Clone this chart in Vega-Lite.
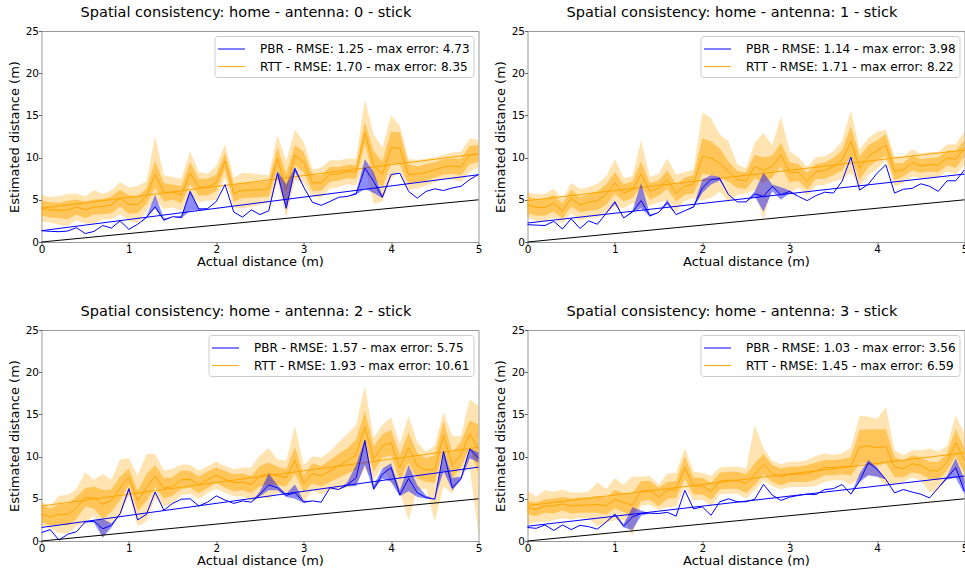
{
"$schema": "https://vega.github.io/schema/vega-lite/v6.json",
"padding": {"left": 7.5, "top": 4, "right": 5, "bottom": 5},
"config": {
 "font": "DejaVu Sans",
 "view": {"stroke": "#999999", "strokeWidth": 1},
 "axis": {"grid": false, "domain": false, "labelFontSize": 10.5, "titleFontSize": 13, "titleFontWeight": "normal", "labelColor": "#000000", "titleColor": "#000000", "tickColor": "#666666", "tickSize": 3, "labelFlush": false, "labelPadding": 0},
 "axisX": {"titlePadding": 1, "labelPadding": -1},
 "axisY": {"titlePadding": 4},
 "title": {"fontSize": 14.5, "fontWeight": "normal", "offset": 6, "color": "#000000", "anchor": "middle", "dx": -14},
 "legend": {"orient": "top-right", "offset": 5, "fillColor": "#ffffff", "strokeColor": "#cccccc", "cornerRadius": 3, "padding": 3.5, "labelFontSize": 12, "labelColor": "#000000", "labelLimit": 600, "symbolStrokeWidth": 1, "rowPadding": 1.6, "labelOffset": 19, "symbolOffset": 4, "symbolSize": 324, "symbolType": "M-1.5,0H1.5"}
},
"datasets": {
"fit": [
 {"p":0,"x":0,"bf":1.34,"rf":4.0,"id":0},{"p":0,"x":5,"bf":7.97,"rf":10.45,"id":5},
 {"p":1,"x":0,"bf":2.25,"rf":4.9,"id":0},{"p":1,"x":5,"bf":8.05,"rf":10.9,"id":5},
 {"p":2,"x":0,"bf":1.6,"rf":4.15,"id":0},{"p":2,"x":5,"bf":8.75,"rf":11.1,"id":5},
 {"p":3,"x":0,"bf":1.75,"rf":4.2,"id":0},{"p":3,"x":5,"bf":7.7,"rf":10.45,"id":5}
],
"d": [
{"p":0,"x":0,"b":1.34,"bl":1.34,"bh":1.34,"r":4.0,"l1":3.1,"h1":4.9,"l2":2.4,"h2":5.6},
{"p":0,"x":0.1,"b":1.26,"bl":1.26,"bh":1.26,"r":3.8,"l1":2.9,"h1":4.7,"l2":2.3,"h2":5.3},
{"p":0,"x":0.2,"b":1.22,"bl":1.22,"bh":1.22,"r":3.75,"l1":2.85,"h1":4.65,"l2":2.05,"h2":5.45},
{"p":0,"x":0.3,"b":1.3,"bl":1.3,"bh":1.3,"r":3.8,"l1":2.7,"h1":4.9,"l2":1.9,"h2":5.7},
{"p":0,"x":0.4,"b":1.7,"bl":1.7,"bh":1.7,"r":4.15,"l1":3.25,"h1":5.05,"l2":2.55,"h2":5.75},
{"p":0,"x":0.5,"b":1.0,"bl":1.0,"bh":1.0,"r":3.8,"l1":2.8,"h1":4.8,"l2":2.2,"h2":5.4},
{"p":0,"x":0.6,"b":1.25,"bl":1.25,"bh":1.25,"r":4.15,"l1":3.25,"h1":5.05,"l2":2.15,"h2":6.15},
{"p":0,"x":0.7,"b":1.95,"bl":1.95,"bh":1.95,"r":4.2,"l1":3.3,"h1":5.1,"l2":2.7,"h2":5.7},
{"p":0,"x":0.8,"b":1.65,"bl":1.65,"bh":1.65,"r":4.4,"l1":3.4,"h1":5.4,"l2":2.7,"h2":6.1},
{"p":0,"x":0.9,"b":2.5,"bl":2.5,"bh":2.5,"r":5.2,"l1":4.2,"h1":6.2,"l2":3.3,"h2":7.1},
{"p":0,"x":1.0,"b":1.5,"bl":1.5,"bh":1.5,"r":4.45,"l1":3.35,"h1":5.55,"l2":2.45,"h2":6.45},
{"p":0,"x":1.1,"b":2.1,"bl":2.1,"bh":2.1,"r":4.45,"l1":3.45,"h1":5.45,"l2":2.25,"h2":6.65},
{"p":0,"x":1.2,"b":2.9,"bl":2.9,"bh":3.0,"r":5.4,"l1":4.5,"h1":6.3,"l2":3.6,"h2":7.2},
{"p":0,"x":1.3,"b":4.15,"bl":4.0,"bh":5.6,"r":8.0,"l1":6.4,"h1":9.6,"l2":5.0,"h2":12.5},
{"p":0,"x":1.4,"b":2.6,"bl":2.5,"bh":2.8,"r":5.9,"l1":4.8,"h1":7.0,"l2":3.9,"h2":7.9},
{"p":0,"x":1.5,"b":3.0,"bl":3.0,"bh":3.0,"r":5.9,"l1":5.0,"h1":6.8,"l2":4.1,"h2":7.7},
{"p":0,"x":1.6,"b":2.9,"bl":2.8,"bh":3.1,"r":5.6,"l1":4.6,"h1":6.6,"l2":3.7,"h2":7.5},
{"p":0,"x":1.7,"b":6.0,"bl":3.7,"bh":6.1,"r":8.15,"l1":6.85,"h1":9.45,"l2":5.55,"h2":10.75},
{"p":0,"x":1.8,"b":3.9,"bl":3.8,"bh":4.0,"r":6.5,"l1":5.5,"h1":7.5,"l2":4.7,"h2":8.3},
{"p":0,"x":1.9,"b":3.95,"bl":3.95,"bh":3.95,"r":6.5,"l1":5.5,"h1":7.5,"l2":4.9,"h2":8.1},
{"p":0,"x":2.0,"b":4.8,"bl":4.8,"bh":4.8,"r":7.0,"l1":6.0,"h1":8.0,"l2":5.0,"h2":9.0},
{"p":0,"x":2.1,"b":6.8,"bl":6.8,"bh":6.8,"r":9.6,"l1":8.6,"h1":10.6,"l2":7.6,"h2":11.6},
{"p":0,"x":2.2,"b":3.55,"bl":3.55,"bh":3.55,"r":5.8,"l1":4.8,"h1":6.8,"l2":4.0,"h2":7.6},
{"p":0,"x":2.3,"b":2.95,"bl":2.95,"bh":2.95,"r":6.1,"l1":5.2,"h1":7.0,"l2":4.0,"h2":8.2},
{"p":0,"x":2.4,"b":3.8,"bl":3.8,"bh":3.8,"r":6.15,"l1":5.25,"h1":7.05,"l2":4.15,"h2":8.15},
{"p":0,"x":2.5,"b":3.25,"bl":3.25,"bh":3.25,"r":6.2,"l1":5.3,"h1":7.1,"l2":4.4,"h2":8.0},
{"p":0,"x":2.6,"b":3.7,"bl":3.7,"bh":3.7,"r":6.3,"l1":5.4,"h1":7.2,"l2":4.7,"h2":7.9},
{"p":0,"x":2.7,"b":8.15,"bl":7.8,"bh":8.4,"r":9.9,"l1":8.6,"h1":11.2,"l2":7.1,"h2":12.7},
{"p":0,"x":2.8,"b":4.0,"bl":3.8,"bh":6.8,"r":6.2,"l1":4.3,"h1":8.1,"l2":2.8,"h2":9.6},
{"p":0,"x":2.9,"b":8.7,"bl":8.3,"bh":8.9,"r":10.3,"l1":9.1,"h1":11.5,"l2":7.3,"h2":13.3},
{"p":0,"x":3.0,"b":6.5,"bl":6.5,"bh":6.5,"r":9.45,"l1":8.25,"h1":10.65,"l2":7.05,"h2":11.85},
{"p":0,"x":3.1,"b":4.7,"bl":4.7,"bh":4.7,"r":7.0,"l1":6.0,"h1":8.0,"l2":5.4,"h2":8.6},
{"p":0,"x":3.2,"b":4.35,"bl":4.35,"bh":4.35,"r":7.0,"l1":6.1,"h1":7.9,"l2":5.2,"h2":8.8},
{"p":0,"x":3.3,"b":4.8,"bl":4.8,"bh":4.8,"r":8.0,"l1":7.1,"h1":8.9,"l2":6.3,"h2":9.7},
{"p":0,"x":3.4,"b":5.3,"bl":5.3,"bh":5.3,"r":8.1,"l1":7.3,"h1":8.9,"l2":6.5,"h2":9.7},
{"p":0,"x":3.5,"b":5.4,"bl":5.4,"bh":5.4,"r":8.35,"l1":7.55,"h1":9.15,"l2":6.85,"h2":9.85},
{"p":0,"x":3.6,"b":5.7,"bl":5.6,"bh":5.9,"r":8.3,"l1":7.5,"h1":9.1,"l2":6.7,"h2":9.9},
{"p":0,"x":3.7,"b":8.75,"bl":6.3,"bh":9.8,"r":12.9,"l1":11.6,"h1":14.2,"l2":8.9,"h2":16.9},
{"p":0,"x":3.8,"b":7.2,"bl":5.8,"bh":8.3,"r":9.15,"l1":7.55,"h1":10.75,"l2":4.5,"h2":12.75},
{"p":0,"x":3.9,"b":5.3,"bl":5.2,"bh":5.5,"r":8.0,"l1":6.5,"h1":9.5,"l2":4.8,"h2":11.2},
{"p":0,"x":4.0,"b":8.0,"bl":8.0,"bh":8.0,"r":11.2,"l1":9.3,"h1":13.1,"l2":7.4,"h2":15.0},
{"p":0,"x":4.1,"b":8.15,"bl":8.15,"bh":8.15,"r":11.1,"l1":9.2,"h1":13.0,"l2":8.4,"h2":13.8},
{"p":0,"x":4.2,"b":6.0,"bl":6.0,"bh":6.0,"r":8.0,"l1":6.8,"h1":9.2,"l2":6.2,"h2":9.8},
{"p":0,"x":4.3,"b":5.2,"bl":5.2,"bh":5.2,"r":8.05,"l1":7.15,"h1":8.95,"l2":6.35,"h2":9.75},
{"p":0,"x":4.4,"b":6.0,"bl":6.0,"bh":6.0,"r":8.25,"l1":7.25,"h1":9.25,"l2":6.65,"h2":9.85},
{"p":0,"x":4.5,"b":6.3,"bl":6.3,"bh":6.3,"r":8.55,"l1":7.65,"h1":9.45,"l2":7.05,"h2":10.05},
{"p":0,"x":4.6,"b":6.1,"bl":6.1,"bh":6.1,"r":8.9,"l1":8.0,"h1":9.8,"l2":7.5,"h2":10.3},
{"p":0,"x":4.7,"b":6.4,"bl":6.4,"bh":6.4,"r":9.0,"l1":8.1,"h1":9.9,"l2":7.4,"h2":10.6},
{"p":0,"x":4.8,"b":6.6,"bl":6.6,"bh":6.6,"r":8.9,"l1":7.9,"h1":9.9,"l2":7.1,"h2":10.7},
{"p":0,"x":4.9,"b":7.4,"bl":7.4,"bh":7.4,"r":10.3,"l1":9.2,"h1":11.4,"l2":8.3,"h2":12.3},
{"p":0,"x":5.0,"b":8.0,"bl":8.0,"bh":8.0,"r":10.5,"l1":9.5,"h1":11.5,"l2":8.9,"h2":12.1},

{"p":1,"x":0,"b":2.05,"bl":2.05,"bh":2.05,"r":4.4,"l1":3.4,"h1":5.4,"l2":2.9,"h2":5.9},
{"p":1,"x":0.1,"b":2.0,"bl":2.0,"bh":2.0,"r":4.1,"l1":3.1,"h1":5.1,"l2":2.5,"h2":5.7},
{"p":1,"x":0.2,"b":1.95,"bl":1.95,"bh":1.95,"r":4.1,"l1":3.1,"h1":5.1,"l2":2.5,"h2":5.7},
{"p":1,"x":0.3,"b":2.45,"bl":2.45,"bh":2.45,"r":4.6,"l1":3.6,"h1":5.6,"l2":2.9,"h2":6.3},
{"p":1,"x":0.4,"b":1.55,"bl":1.55,"bh":1.55,"r":3.65,"l1":2.75,"h1":4.55,"l2":2.15,"h2":5.15},
{"p":1,"x":0.5,"b":2.75,"bl":2.75,"bh":2.75,"r":5.2,"l1":4.2,"h1":6.2,"l2":3.4,"h2":7.0},
{"p":1,"x":0.6,"b":1.6,"bl":1.6,"bh":1.6,"r":4.4,"l1":3.5,"h1":5.3,"l2":2.5,"h2":6.3},
{"p":1,"x":0.7,"b":2.5,"bl":2.5,"bh":2.5,"r":4.7,"l1":3.7,"h1":5.7,"l2":2.9,"h2":6.5},
{"p":1,"x":0.8,"b":2.1,"bl":2.1,"bh":2.1,"r":4.9,"l1":3.8,"h1":6.0,"l2":2.9,"h2":6.9},
{"p":1,"x":0.9,"b":3.4,"bl":3.4,"bh":3.4,"r":5.6,"l1":4.4,"h1":6.8,"l2":3.4,"h2":7.8},
{"p":1,"x":1.0,"b":4.75,"bl":4.5,"bh":4.9,"r":7.0,"l1":5.7,"h1":8.3,"l2":4.2,"h2":9.8},
{"p":1,"x":1.1,"b":2.85,"bl":2.85,"bh":2.85,"r":5.8,"l1":4.8,"h1":6.8,"l2":4.0,"h2":7.6},
{"p":1,"x":1.2,"b":3.55,"bl":3.5,"bh":3.7,"r":6.2,"l1":5.2,"h1":7.2,"l2":4.6,"h2":7.8},
{"p":1,"x":1.3,"b":4.9,"bl":4.0,"bh":7.0,"r":8.05,"l1":6.55,"h1":9.55,"l2":4.05,"h2":12.05},
{"p":1,"x":1.4,"b":3.1,"bl":3.0,"bh":3.3,"r":6.0,"l1":5.0,"h1":7.0,"l2":4.3,"h2":7.7},
{"p":1,"x":1.5,"b":3.5,"bl":3.5,"bh":3.5,"r":6.4,"l1":5.5,"h1":7.3,"l2":4.7,"h2":8.1},
{"p":1,"x":1.6,"b":4.7,"bl":4.4,"bh":5.0,"r":7.4,"l1":6.3,"h1":8.5,"l2":4.9,"h2":9.9},
{"p":1,"x":1.7,"b":3.25,"bl":3.25,"bh":3.25,"r":5.8,"l1":4.8,"h1":6.8,"l2":3.6,"h2":8.0},
{"p":1,"x":1.8,"b":3.7,"bl":3.7,"bh":3.7,"r":6.6,"l1":5.6,"h1":7.6,"l2":4.9,"h2":8.3},
{"p":1,"x":1.9,"b":4.15,"bl":4.1,"bh":4.3,"r":6.85,"l1":5.75,"h1":7.95,"l2":5.15,"h2":8.55},
{"p":1,"x":2.0,"b":6.4,"bl":5.8,"bh":7.4,"r":10.15,"l1":8.05,"h1":12.25,"l2":4.95,"h2":15.35},
{"p":1,"x":2.1,"b":7.4,"bl":6.8,"bh":7.9,"r":9.95,"l1":7.95,"h1":11.95,"l2":5.25,"h2":14.65},
{"p":1,"x":2.2,"b":7.5,"bl":7.3,"bh":7.7,"r":9.35,"l1":7.65,"h1":11.05,"l2":5.95,"h2":12.75},
{"p":1,"x":2.3,"b":5.6,"bl":5.6,"bh":5.6,"r":8.35,"l1":7.15,"h1":9.55,"l2":4.75,"h2":11.95},
{"p":1,"x":2.4,"b":4.75,"bl":4.75,"bh":4.75,"r":7.4,"l1":6.4,"h1":8.4,"l2":5.6,"h2":9.2},
{"p":1,"x":2.5,"b":4.75,"bl":4.75,"bh":4.75,"r":7.25,"l1":6.25,"h1":8.25,"l2":5.75,"h2":8.75},
{"p":1,"x":2.6,"b":5.7,"bl":5.4,"bh":6.0,"r":8.95,"l1":7.55,"h1":10.35,"l2":6.15,"h2":11.75},
{"p":1,"x":2.7,"b":5.4,"bl":3.6,"bh":8.2,"r":8.5,"l1":7.0,"h1":10.0,"l2":2.6,"h2":12.9},
{"p":1,"x":2.8,"b":6.6,"bl":6.0,"bh":6.8,"r":8.95,"l1":7.65,"h1":10.25,"l2":6.45,"h2":11.45},
{"p":1,"x":2.9,"b":5.6,"bl":5.0,"bh":6.5,"r":10.35,"l1":8.95,"h1":11.75,"l2":5.85,"h2":14.85},
{"p":1,"x":3.0,"b":6.0,"bl":5.8,"bh":6.1,"r":8.25,"l1":7.05,"h1":9.45,"l2":5.75,"h2":10.75},
{"p":1,"x":3.1,"b":5.4,"bl":5.4,"bh":5.4,"r":8.25,"l1":7.25,"h1":9.25,"l2":6.45,"h2":10.05},
{"p":1,"x":3.2,"b":4.9,"bl":4.9,"bh":4.9,"r":7.2,"l1":6.2,"h1":8.2,"l2":5.5,"h2":8.9},
{"p":1,"x":3.3,"b":5.5,"bl":5.5,"bh":5.5,"r":8.35,"l1":7.45,"h1":9.25,"l2":6.65,"h2":10.05},
{"p":1,"x":3.4,"b":5.9,"bl":5.9,"bh":5.9,"r":8.45,"l1":7.45,"h1":9.45,"l2":6.75,"h2":10.15},
{"p":1,"x":3.5,"b":5.8,"bl":5.8,"bh":5.8,"r":8.95,"l1":7.95,"h1":9.95,"l2":7.15,"h2":10.75},
{"p":1,"x":3.6,"b":7.2,"bl":7.2,"bh":7.2,"r":9.7,"l1":8.5,"h1":10.9,"l2":7.4,"h2":12.0},
{"p":1,"x":3.7,"b":10.05,"bl":10.05,"bh":10.05,"r":11.9,"l1":10.1,"h1":13.7,"l2":8.2,"h2":15.6},
{"p":1,"x":3.8,"b":6.15,"bl":6.15,"bh":6.15,"r":8.75,"l1":7.35,"h1":10.15,"l2":6.55,"h2":10.95},
{"p":1,"x":3.9,"b":6.85,"bl":6.85,"bh":6.85,"r":10.15,"l1":8.85,"h1":11.45,"l2":7.95,"h2":12.35},
{"p":1,"x":4.0,"b":8.15,"bl":8.15,"bh":8.15,"r":10.85,"l1":9.65,"h1":12.05,"l2":8.65,"h2":13.05},
{"p":1,"x":4.1,"b":9.15,"bl":9.15,"bh":9.15,"r":11.5,"l1":10.2,"h1":12.8,"l2":9.7,"h2":13.3},
{"p":1,"x":4.2,"b":5.8,"bl":5.8,"bh":5.8,"r":8.35,"l1":7.35,"h1":9.35,"l2":6.55,"h2":10.15},
{"p":1,"x":4.3,"b":6.25,"bl":6.25,"bh":6.25,"r":8.55,"l1":7.75,"h1":9.35,"l2":6.95,"h2":10.15},
{"p":1,"x":4.4,"b":6.35,"bl":6.35,"bh":6.35,"r":9.4,"l1":8.5,"h1":10.3,"l2":7.8,"h2":11.0},
{"p":1,"x":4.5,"b":6.9,"bl":6.9,"bh":6.9,"r":9.0,"l1":8.2,"h1":9.8,"l2":7.5,"h2":10.5},
{"p":1,"x":4.6,"b":6.6,"bl":6.6,"bh":6.6,"r":9.15,"l1":8.35,"h1":9.95,"l2":7.65,"h2":10.65},
{"p":1,"x":4.7,"b":6.0,"bl":6.0,"bh":6.0,"r":9.15,"l1":8.25,"h1":10.05,"l2":7.65,"h2":10.65},
{"p":1,"x":4.8,"b":7.25,"bl":7.25,"bh":7.25,"r":9.95,"l1":9.05,"h1":10.85,"l2":8.35,"h2":11.55},
{"p":1,"x":4.9,"b":7.25,"bl":7.25,"bh":7.25,"r":9.8,"l1":8.8,"h1":10.8,"l2":8.0,"h2":11.6},
{"p":1,"x":5.0,"b":8.55,"bl":8.55,"bh":8.55,"r":11.1,"l1":10.1,"h1":12.1,"l2":9.1,"h2":13.1},

{"p":2,"x":0,"b":1.0,"bl":1.0,"bh":1.0,"r":3.25,"l1":2.25,"h1":4.25,"l2":1.85,"h2":4.65},
{"p":2,"x":0.1,"b":1.35,"bl":1.35,"bh":1.35,"r":2.85,"l1":1.85,"h1":3.85,"l2":1.55,"h2":4.15},
{"p":2,"x":0.2,"b":0.1,"bl":0.1,"bh":0.1,"r":3.15,"l1":1.95,"h1":4.35,"l2":0.95,"h2":5.35},
{"p":2,"x":0.3,"b":0.8,"bl":0.8,"bh":0.8,"r":3.15,"l1":1.85,"h1":4.45,"l2":0.85,"h2":5.45},
{"p":2,"x":0.4,"b":1.1,"bl":1.1,"bh":1.1,"r":3.95,"l1":2.65,"h1":5.25,"l2":1.75,"h2":6.15},
{"p":2,"x":0.5,"b":2.25,"bl":2.25,"bh":2.25,"r":5.15,"l1":4.05,"h1":6.25,"l2":2.15,"h2":8.15},
{"p":2,"x":0.6,"b":2.35,"bl":2.2,"bh":2.4,"r":5.15,"l1":3.85,"h1":6.45,"l2":3.05,"h2":7.25},
{"p":2,"x":0.7,"b":1.45,"bl":0.4,"bh":2.6,"r":4.35,"l1":2.65,"h1":6.05,"l2":0.2,"h2":7.95},
{"p":2,"x":0.8,"b":1.85,"bl":1.6,"bh":2.1,"r":4.8,"l1":3.5,"h1":6.1,"l2":2.3,"h2":7.3},
{"p":2,"x":0.9,"b":3.25,"bl":3.25,"bh":3.25,"r":6.25,"l1":4.85,"h1":7.65,"l2":2.85,"h2":9.65},
{"p":2,"x":1.0,"b":6.2,"bl":5.9,"bh":6.3,"r":7.6,"l1":6.6,"h1":8.6,"l2":5.4,"h2":9.8},
{"p":2,"x":1.1,"b":2.5,"bl":2.5,"bh":2.5,"r":4.75,"l1":3.55,"h1":5.95,"l2":1.75,"h2":7.75},
{"p":2,"x":1.2,"b":3.15,"bl":3.15,"bh":3.15,"r":6.3,"l1":4.7,"h1":7.9,"l2":2.3,"h2":10.3},
{"p":2,"x":1.3,"b":5.8,"bl":5.8,"bh":5.8,"r":7.7,"l1":6.4,"h1":9.0,"l2":5.1,"h2":10.3},
{"p":2,"x":1.4,"b":3.65,"bl":3.65,"bh":3.65,"r":6.25,"l1":5.05,"h1":7.45,"l2":4.15,"h2":8.35},
{"p":2,"x":1.5,"b":4.45,"bl":4.45,"bh":4.45,"r":6.45,"l1":5.35,"h1":7.55,"l2":4.35,"h2":8.55},
{"p":2,"x":1.6,"b":4.95,"bl":4.95,"bh":4.95,"r":7.25,"l1":6.15,"h1":8.35,"l2":5.45,"h2":9.05},
{"p":2,"x":1.7,"b":5.0,"bl":5.0,"bh":5.0,"r":7.3,"l1":6.3,"h1":8.3,"l2":5.6,"h2":9.0},
{"p":2,"x":1.8,"b":4.15,"bl":4.15,"bh":4.15,"r":6.65,"l1":5.65,"h1":7.65,"l2":4.95,"h2":8.35},
{"p":2,"x":1.9,"b":4.6,"bl":4.6,"bh":4.6,"r":7.25,"l1":6.25,"h1":8.25,"l2":5.65,"h2":8.85},
{"p":2,"x":2.0,"b":5.35,"bl":5.35,"bh":5.35,"r":7.8,"l1":6.9,"h1":8.7,"l2":6.2,"h2":9.4},
{"p":2,"x":2.1,"b":4.85,"bl":4.85,"bh":4.85,"r":7.3,"l1":6.3,"h1":8.3,"l2":5.7,"h2":8.9},
{"p":2,"x":2.2,"b":4.45,"bl":4.45,"bh":4.45,"r":6.9,"l1":5.9,"h1":7.9,"l2":5.3,"h2":8.5},
{"p":2,"x":2.3,"b":4.75,"bl":4.75,"bh":4.75,"r":7.0,"l1":6.0,"h1":8.0,"l2":5.3,"h2":8.7},
{"p":2,"x":2.4,"b":4.6,"bl":4.6,"bh":4.6,"r":6.7,"l1":5.7,"h1":7.7,"l2":4.7,"h2":8.7},
{"p":2,"x":2.5,"b":5.55,"bl":5.3,"bh":5.9,"r":7.7,"l1":6.5,"h1":8.9,"l2":5.2,"h2":10.2},
{"p":2,"x":2.6,"b":6.65,"bl":6.0,"bh":8.0,"r":8.0,"l1":6.7,"h1":9.3,"l2":5.0,"h2":11.0},
{"p":2,"x":2.7,"b":6.3,"bl":6.0,"bh":6.6,"r":7.7,"l1":6.6,"h1":8.8,"l2":5.7,"h2":9.7},
{"p":2,"x":2.8,"b":5.4,"bl":5.2,"bh":5.6,"r":7.5,"l1":6.5,"h1":8.5,"l2":5.5,"h2":9.5},
{"p":2,"x":2.9,"b":5.75,"bl":5.0,"bh":6.7,"r":9.55,"l1":7.95,"h1":11.15,"l2":5.45,"h2":13.65},
{"p":2,"x":3.0,"b":4.6,"bl":4.5,"bh":4.8,"r":6.8,"l1":5.8,"h1":7.8,"l2":4.6,"h2":9.0},
{"p":2,"x":3.1,"b":4.75,"bl":4.75,"bh":4.75,"r":8.0,"l1":6.8,"h1":9.2,"l2":6.0,"h2":10.0},
{"p":2,"x":3.2,"b":4.6,"bl":4.6,"bh":4.6,"r":7.7,"l1":6.5,"h1":8.9,"l2":5.5,"h2":9.9},
{"p":2,"x":3.3,"b":6.3,"bl":6.3,"bh":6.3,"r":8.3,"l1":7.0,"h1":9.6,"l2":6.0,"h2":10.6},
{"p":2,"x":3.4,"b":6.1,"bl":6.1,"bh":6.1,"r":8.9,"l1":7.5,"h1":10.3,"l2":6.1,"h2":11.7},
{"p":2,"x":3.5,"b":6.65,"bl":6.5,"bh":7.0,"r":9.5,"l1":8.0,"h1":11.0,"l2":6.3,"h2":12.7},
{"p":2,"x":3.6,"b":7.5,"bl":6.5,"bh":9.0,"r":10.25,"l1":8.45,"h1":12.05,"l2":6.75,"h2":13.75},
{"p":2,"x":3.7,"b":11.9,"bl":9.0,"bh":12.0,"r":13.5,"l1":11.6,"h1":15.4,"l2":8.6,"h2":18.4},
{"p":2,"x":3.8,"b":6.15,"bl":6.0,"bh":6.6,"r":9.7,"l1":8.2,"h1":11.2,"l2":7.2,"h2":12.2},
{"p":2,"x":3.9,"b":7.9,"bl":7.4,"bh":8.6,"r":11.25,"l1":9.85,"h1":12.65,"l2":8.75,"h2":13.75},
{"p":2,"x":4.0,"b":8.7,"bl":7.0,"bh":9.2,"r":11.65,"l1":10.15,"h1":13.15,"l2":7.0,"h2":14.65},
{"p":2,"x":4.1,"b":5.45,"bl":5.3,"bh":6.0,"r":8.7,"l1":7.2,"h1":10.2,"l2":5.9,"h2":11.5},
{"p":2,"x":4.2,"b":7.4,"bl":5.9,"bh":9.0,"r":11.05,"l1":9.25,"h1":12.85,"l2":2.5,"h2":14.8},
{"p":2,"x":4.3,"b":5.7,"bl":5.2,"bh":6.6,"r":8.9,"l1":7.4,"h1":10.4,"l2":6.1,"h2":11.7},
{"p":2,"x":4.4,"b":5.15,"bl":5.0,"bh":5.4,"r":8.4,"l1":7.0,"h1":9.8,"l2":6.2,"h2":10.6},
{"p":2,"x":4.5,"b":4.95,"bl":4.95,"bh":4.95,"r":8.5,"l1":6.9,"h1":10.2,"l2":2.3,"h2":11.3},
{"p":2,"x":4.6,"b":10.6,"bl":8.3,"bh":10.7,"r":12.5,"l1":10.8,"h1":14.2,"l2":6.5,"h2":15.3},
{"p":2,"x":4.7,"b":6.3,"bl":6.0,"bh":7.5,"r":9.0,"l1":7.5,"h1":10.5,"l2":5.6,"h2":12.4},
{"p":2,"x":4.8,"b":7.4,"bl":7.2,"bh":7.6,"r":10.25,"l1":8.75,"h1":11.75,"l2":8.05,"h2":12.45},
{"p":2,"x":4.9,"b":10.9,"bl":9.8,"bh":11.0,"r":12.7,"l1":11.1,"h1":14.3,"l2":8.6,"h2":16.8},
{"p":2,"x":5.0,"b":9.8,"bl":9.3,"bh":10.5,"r":10.85,"l1":8.0,"h1":13.8,"l2":0.8,"h2":16.0},

{"p":3,"x":0,"b":1.6,"bl":1.6,"bh":1.6,"r":3.95,"l1":3.15,"h1":4.75,"l2":1.95,"h2":5.95},
{"p":3,"x":0.1,"b":1.5,"bl":1.5,"bh":1.5,"r":3.75,"l1":2.95,"h1":4.55,"l2":2.25,"h2":5.25},
{"p":3,"x":0.2,"b":1.9,"bl":1.9,"bh":1.9,"r":4.15,"l1":3.35,"h1":4.95,"l2":2.25,"h2":6.05},
{"p":3,"x":0.3,"b":1.25,"bl":1.25,"bh":1.25,"r":4.15,"l1":3.25,"h1":5.05,"l2":2.45,"h2":5.85},
{"p":3,"x":0.4,"b":1.9,"bl":1.9,"bh":1.9,"r":4.4,"l1":3.6,"h1":5.2,"l2":2.7,"h2":6.1},
{"p":3,"x":0.5,"b":1.35,"bl":1.35,"bh":1.35,"r":4.15,"l1":3.25,"h1":5.05,"l2":2.55,"h2":5.75},
{"p":3,"x":0.6,"b":1.85,"bl":1.85,"bh":1.85,"r":4.25,"l1":3.35,"h1":5.15,"l2":2.75,"h2":5.75},
{"p":3,"x":0.7,"b":1.7,"bl":1.7,"bh":1.7,"r":4.25,"l1":3.35,"h1":5.15,"l2":2.65,"h2":5.85},
{"p":3,"x":0.8,"b":1.4,"bl":1.4,"bh":1.4,"r":4.35,"l1":3.35,"h1":5.35,"l2":1.75,"h2":6.95},
{"p":3,"x":0.9,"b":2.25,"bl":2.25,"bh":2.25,"r":4.15,"l1":3.15,"h1":5.15,"l2":2.15,"h2":6.15},
{"p":3,"x":1.0,"b":3.15,"bl":3.0,"bh":3.3,"r":4.95,"l1":3.85,"h1":6.05,"l2":2.45,"h2":7.45},
{"p":3,"x":1.1,"b":1.75,"bl":1.6,"bh":2.0,"r":4.55,"l1":3.45,"h1":5.65,"l2":2.45,"h2":6.65},
{"p":3,"x":1.2,"b":2.85,"bl":1.3,"bh":4.0,"r":4.25,"l1":2.85,"h1":5.65,"l2":0.6,"h2":7.65},
{"p":3,"x":1.3,"b":3.25,"bl":3.0,"bh":3.6,"r":5.9,"l1":4.7,"h1":7.1,"l2":4.2,"h2":7.6},
{"p":3,"x":1.4,"b":3.3,"bl":3.3,"bh":3.3,"r":6.0,"l1":4.9,"h1":7.1,"l2":4.3,"h2":7.7},
{"p":3,"x":1.5,"b":3.25,"bl":3.25,"bh":3.25,"r":5.2,"l1":4.1,"h1":6.3,"l2":3.7,"h2":6.7},
{"p":3,"x":1.6,"b":3.4,"bl":3.4,"bh":3.4,"r":6.0,"l1":5.0,"h1":7.0,"l2":4.0,"h2":8.0},
{"p":3,"x":1.7,"b":2.95,"bl":2.95,"bh":2.95,"r":6.1,"l1":5.1,"h1":7.1,"l2":4.1,"h2":8.1},
{"p":3,"x":1.8,"b":6.0,"bl":6.0,"bh":6.0,"r":8.7,"l1":7.4,"h1":10.0,"l2":6.4,"h2":11.0},
{"p":3,"x":1.9,"b":3.8,"bl":3.8,"bh":3.8,"r":6.5,"l1":5.5,"h1":7.5,"l2":4.8,"h2":8.2},
{"p":3,"x":2.0,"b":4.05,"bl":4.05,"bh":4.05,"r":6.5,"l1":5.5,"h1":7.5,"l2":4.9,"h2":8.1},
{"p":3,"x":2.1,"b":3.05,"bl":3.05,"bh":3.05,"r":5.9,"l1":4.9,"h1":6.9,"l2":4.1,"h2":7.7},
{"p":3,"x":2.2,"b":4.65,"bl":4.65,"bh":4.65,"r":7.1,"l1":6.1,"h1":8.1,"l2":5.5,"h2":8.7},
{"p":3,"x":2.3,"b":5.0,"bl":5.0,"bh":5.0,"r":7.2,"l1":6.2,"h1":8.2,"l2":5.6,"h2":8.8},
{"p":3,"x":2.4,"b":4.65,"bl":4.65,"bh":4.65,"r":7.2,"l1":6.2,"h1":8.2,"l2":5.6,"h2":8.8},
{"p":3,"x":2.5,"b":4.65,"bl":4.65,"bh":4.65,"r":6.8,"l1":5.7,"h1":7.9,"l2":5.0,"h2":8.6},
{"p":3,"x":2.6,"b":4.95,"bl":4.95,"bh":4.95,"r":7.9,"l1":6.6,"h1":9.2,"l2":6.0,"h2":13.7},
{"p":3,"x":2.7,"b":6.7,"bl":6.7,"bh":6.7,"r":9.1,"l1":7.9,"h1":10.3,"l2":7.2,"h2":11.0},
{"p":3,"x":2.8,"b":5.45,"bl":5.45,"bh":5.45,"r":8.0,"l1":7.0,"h1":9.0,"l2":6.5,"h2":9.5},
{"p":3,"x":2.9,"b":4.8,"bl":4.8,"bh":4.8,"r":7.6,"l1":6.6,"h1":8.6,"l2":6.1,"h2":9.1},
{"p":3,"x":3.0,"b":5.2,"bl":5.2,"bh":5.2,"r":7.9,"l1":7.0,"h1":8.8,"l2":6.4,"h2":9.4},
{"p":3,"x":3.1,"b":5.4,"bl":5.4,"bh":5.4,"r":7.9,"l1":7.0,"h1":8.8,"l2":6.4,"h2":9.4},
{"p":3,"x":3.2,"b":5.55,"bl":5.55,"bh":5.55,"r":8.0,"l1":7.0,"h1":9.0,"l2":6.4,"h2":9.6},
{"p":3,"x":3.3,"b":5.5,"bl":5.5,"bh":5.5,"r":8.3,"l1":7.3,"h1":9.3,"l2":6.5,"h2":10.1},
{"p":3,"x":3.4,"b":6.1,"bl":6.1,"bh":6.1,"r":8.7,"l1":7.8,"h1":9.6,"l2":7.0,"h2":10.4},
{"p":3,"x":3.5,"b":6.2,"bl":6.2,"bh":6.2,"r":8.7,"l1":7.8,"h1":9.6,"l2":7.2,"h2":10.2},
{"p":3,"x":3.6,"b":6.7,"bl":6.7,"bh":6.7,"r":8.8,"l1":7.9,"h1":9.7,"l2":7.2,"h2":10.4},
{"p":3,"x":3.7,"b":5.55,"bl":5.55,"bh":5.55,"r":8.85,"l1":7.75,"h1":9.95,"l2":6.65,"h2":11.05},
{"p":3,"x":3.8,"b":7.1,"bl":7.0,"bh":8.0,"r":11.15,"l1":9.15,"h1":13.15,"l2":7.45,"h2":14.85},
{"p":3,"x":3.9,"b":9.3,"bl":7.8,"bh":9.6,"r":11.25,"l1":9.25,"h1":13.25,"l2":7.75,"h2":14.75},
{"p":3,"x":4.0,"b":8.5,"bl":7.6,"bh":8.7,"r":11.05,"l1":8.85,"h1":13.25,"l2":7.65,"h2":14.45},
{"p":3,"x":4.1,"b":7.3,"bl":7.3,"bh":7.3,"r":11.2,"l1":9.2,"h1":13.2,"l2":6.5,"h2":15.9},
{"p":3,"x":4.2,"b":5.7,"bl":5.7,"bh":5.7,"r":8.75,"l1":7.55,"h1":9.95,"l2":6.75,"h2":10.75},
{"p":3,"x":4.3,"b":6.1,"bl":6.1,"bh":6.1,"r":8.55,"l1":7.55,"h1":9.55,"l2":6.95,"h2":10.15},
{"p":3,"x":4.4,"b":5.8,"bl":5.8,"bh":5.8,"r":9.15,"l1":8.15,"h1":10.15,"l2":7.55,"h2":10.75},
{"p":3,"x":4.5,"b":5.55,"bl":5.55,"bh":5.55,"r":8.95,"l1":7.95,"h1":9.95,"l2":7.15,"h2":10.75},
{"p":3,"x":4.6,"b":5.1,"bl":5.1,"bh":5.1,"r":8.35,"l1":7.35,"h1":9.35,"l2":5.75,"h2":10.95},
{"p":3,"x":4.7,"b":6.3,"bl":6.3,"bh":6.3,"r":8.3,"l1":7.2,"h1":9.4,"l2":6.0,"h2":10.6},
{"p":3,"x":4.8,"b":7.5,"bl":7.3,"bh":7.7,"r":9.35,"l1":8.35,"h1":10.35,"l2":7.45,"h2":11.25},
{"p":3,"x":4.9,"b":8.7,"bl":7.5,"bh":9.8,"r":11.65,"l1":10.05,"h1":13.25,"l2":8.45,"h2":14.85},
{"p":3,"x":5.0,"b":5.9,"bl":5.5,"bh":7.3,"r":9.5,"l1":8.0,"h1":11.0,"l2":6.3,"h2":12.7}
]
},
"columns": 2,
"spacing": {"row": 88, "column": 49},
"bounds": "flush",
"resolve": {"scale": {"color": "independent"}, "legend": {"color": "independent"}},
"concat": [
{"title": "Spatial consistency: home - antenna: 0 - stick", "width": 437, "height": 211,
 "layer": [
  {"data": {"name": "d"}, "transform": [{"filter": "datum.p == 0"}], "mark": {"type": "area", "color": "#ffa500", "opacity": 0.3},
   "encoding": {"x": {"field": "x", "type": "quantitative", "title": "Actual distance (m)", "scale": {"domain": [0, 5], "nice": false}, "axis": {"values": [0, 1, 2, 3, 4, 5], "format": "d"}},
    "y": {"field": "l2", "type": "quantitative", "title": "Estimated distance (m)", "scale": {"domain": [0, 25], "nice": false}, "axis": {"values": [0, 5, 10, 15, 20, 25]}}, "y2": {"field": "h2"}}},
  {"data": {"name": "d"}, "transform": [{"filter": "datum.p == 0"}], "mark": {"type": "area", "color": "#ffa500", "opacity": 0.5},
   "encoding": {"x": {"field": "x", "type": "quantitative"}, "y": {"field": "l1", "type": "quantitative"}, "y2": {"field": "h1"}}},
  {"data": {"name": "d"}, "transform": [{"filter": "datum.p == 0"}], "mark": {"type": "line", "strokeWidth": 1},
   "encoding": {"x": {"field": "x", "type": "quantitative"}, "y": {"field": "r", "type": "quantitative"},
    "color": {"datum": "RTT - RMSE: 1.70 - max error: 8.35", "type": "nominal", "scale": {"domain": ["PBR - RMSE: 1.25 - max error: 4.73", "RTT - RMSE: 1.70 - max error: 8.35"], "range": ["#0000ff", "#ffa500"]}, "legend": {"title": null}}}},
  {"data": {"name": "fit"}, "transform": [{"filter": "datum.p == 0"}], "mark": {"type": "line", "color": "#ffa500", "strokeWidth": 1},
   "encoding": {"x": {"field": "x", "type": "quantitative"}, "y": {"field": "rf", "type": "quantitative"}}},
  {"data": {"name": "d"}, "transform": [{"filter": "datum.p == 0"}], "mark": {"type": "area", "color": "#0000ff", "opacity": 0.45},
   "encoding": {"x": {"field": "x", "type": "quantitative"}, "y": {"field": "bl", "type": "quantitative"}, "y2": {"field": "bh"}}},
  {"data": {"name": "d"}, "transform": [{"filter": "datum.p == 0"}], "mark": {"type": "line", "strokeWidth": 1},
   "encoding": {"x": {"field": "x", "type": "quantitative"}, "y": {"field": "b", "type": "quantitative"},
    "color": {"datum": "PBR - RMSE: 1.25 - max error: 4.73", "type": "nominal"}}},
  {"data": {"name": "fit"}, "transform": [{"filter": "datum.p == 0"}], "mark": {"type": "line", "color": "#0000ff", "strokeWidth": 1},
   "encoding": {"x": {"field": "x", "type": "quantitative"}, "y": {"field": "bf", "type": "quantitative"}}},
  {"data": {"name": "fit"}, "transform": [{"filter": "datum.p == 0"}], "mark": {"type": "line", "color": "#000000", "strokeWidth": 1},
   "encoding": {"x": {"field": "x", "type": "quantitative"}, "y": {"field": "id", "type": "quantitative"}}}
 ]},
{"title": "Spatial consistency: home - antenna: 1 - stick", "width": 437, "height": 211,
 "layer": [
  {"data": {"name": "d"}, "transform": [{"filter": "datum.p == 1"}], "mark": {"type": "area", "color": "#ffa500", "opacity": 0.3},
   "encoding": {"x": {"field": "x", "type": "quantitative", "title": "Actual distance (m)", "scale": {"domain": [0, 5], "nice": false}, "axis": {"values": [0, 1, 2, 3, 4, 5], "format": "d"}},
    "y": {"field": "l2", "type": "quantitative", "title": "Estimated distance (m)", "scale": {"domain": [0, 25], "nice": false}, "axis": {"values": [0, 5, 10, 15, 20, 25]}}, "y2": {"field": "h2"}}},
  {"data": {"name": "d"}, "transform": [{"filter": "datum.p == 1"}], "mark": {"type": "area", "color": "#ffa500", "opacity": 0.5},
   "encoding": {"x": {"field": "x", "type": "quantitative"}, "y": {"field": "l1", "type": "quantitative"}, "y2": {"field": "h1"}}},
  {"data": {"name": "d"}, "transform": [{"filter": "datum.p == 1"}], "mark": {"type": "line", "strokeWidth": 1},
   "encoding": {"x": {"field": "x", "type": "quantitative"}, "y": {"field": "r", "type": "quantitative"},
    "color": {"datum": "RTT - RMSE: 1.71 - max error: 8.22", "type": "nominal", "scale": {"domain": ["PBR - RMSE: 1.14 - max error: 3.98", "RTT - RMSE: 1.71 - max error: 8.22"], "range": ["#0000ff", "#ffa500"]}, "legend": {"title": null}}}},
  {"data": {"name": "fit"}, "transform": [{"filter": "datum.p == 1"}], "mark": {"type": "line", "color": "#ffa500", "strokeWidth": 1},
   "encoding": {"x": {"field": "x", "type": "quantitative"}, "y": {"field": "rf", "type": "quantitative"}}},
  {"data": {"name": "d"}, "transform": [{"filter": "datum.p == 1"}], "mark": {"type": "area", "color": "#0000ff", "opacity": 0.45},
   "encoding": {"x": {"field": "x", "type": "quantitative"}, "y": {"field": "bl", "type": "quantitative"}, "y2": {"field": "bh"}}},
  {"data": {"name": "d"}, "transform": [{"filter": "datum.p == 1"}], "mark": {"type": "line", "strokeWidth": 1},
   "encoding": {"x": {"field": "x", "type": "quantitative"}, "y": {"field": "b", "type": "quantitative"},
    "color": {"datum": "PBR - RMSE: 1.14 - max error: 3.98", "type": "nominal"}}},
  {"data": {"name": "fit"}, "transform": [{"filter": "datum.p == 1"}], "mark": {"type": "line", "color": "#0000ff", "strokeWidth": 1},
   "encoding": {"x": {"field": "x", "type": "quantitative"}, "y": {"field": "bf", "type": "quantitative"}}},
  {"data": {"name": "fit"}, "transform": [{"filter": "datum.p == 1"}], "mark": {"type": "line", "color": "#000000", "strokeWidth": 1},
   "encoding": {"x": {"field": "x", "type": "quantitative"}, "y": {"field": "id", "type": "quantitative"}}}
 ]},
{"title": "Spatial consistency: home - antenna: 2 - stick", "width": 437, "height": 211,
 "layer": [
  {"data": {"name": "d"}, "transform": [{"filter": "datum.p == 2"}], "mark": {"type": "area", "color": "#ffa500", "opacity": 0.3},
   "encoding": {"x": {"field": "x", "type": "quantitative", "title": "Actual distance (m)", "scale": {"domain": [0, 5], "nice": false}, "axis": {"values": [0, 1, 2, 3, 4, 5], "format": "d"}},
    "y": {"field": "l2", "type": "quantitative", "title": "Estimated distance (m)", "scale": {"domain": [0, 25], "nice": false}, "axis": {"values": [0, 5, 10, 15, 20, 25]}}, "y2": {"field": "h2"}}},
  {"data": {"name": "d"}, "transform": [{"filter": "datum.p == 2"}], "mark": {"type": "area", "color": "#ffa500", "opacity": 0.5},
   "encoding": {"x": {"field": "x", "type": "quantitative"}, "y": {"field": "l1", "type": "quantitative"}, "y2": {"field": "h1"}}},
  {"data": {"name": "d"}, "transform": [{"filter": "datum.p == 2"}], "mark": {"type": "line", "strokeWidth": 1},
   "encoding": {"x": {"field": "x", "type": "quantitative"}, "y": {"field": "r", "type": "quantitative"},
    "color": {"datum": "RTT - RMSE: 1.93 - max error: 10.61", "type": "nominal", "scale": {"domain": ["PBR - RMSE: 1.57 - max error: 5.75", "RTT - RMSE: 1.93 - max error: 10.61"], "range": ["#0000ff", "#ffa500"]}, "legend": {"title": null}}}},
  {"data": {"name": "fit"}, "transform": [{"filter": "datum.p == 2"}], "mark": {"type": "line", "color": "#ffa500", "strokeWidth": 1},
   "encoding": {"x": {"field": "x", "type": "quantitative"}, "y": {"field": "rf", "type": "quantitative"}}},
  {"data": {"name": "d"}, "transform": [{"filter": "datum.p == 2"}], "mark": {"type": "area", "color": "#0000ff", "opacity": 0.45},
   "encoding": {"x": {"field": "x", "type": "quantitative"}, "y": {"field": "bl", "type": "quantitative"}, "y2": {"field": "bh"}}},
  {"data": {"name": "d"}, "transform": [{"filter": "datum.p == 2"}], "mark": {"type": "line", "strokeWidth": 1},
   "encoding": {"x": {"field": "x", "type": "quantitative"}, "y": {"field": "b", "type": "quantitative"},
    "color": {"datum": "PBR - RMSE: 1.57 - max error: 5.75", "type": "nominal"}}},
  {"data": {"name": "fit"}, "transform": [{"filter": "datum.p == 2"}], "mark": {"type": "line", "color": "#0000ff", "strokeWidth": 1},
   "encoding": {"x": {"field": "x", "type": "quantitative"}, "y": {"field": "bf", "type": "quantitative"}}},
  {"data": {"name": "fit"}, "transform": [{"filter": "datum.p == 2"}], "mark": {"type": "line", "color": "#000000", "strokeWidth": 1},
   "encoding": {"x": {"field": "x", "type": "quantitative"}, "y": {"field": "id", "type": "quantitative"}}}
 ]},
{"title": "Spatial consistency: home - antenna: 3 - stick", "width": 437, "height": 211,
 "layer": [
  {"data": {"name": "d"}, "transform": [{"filter": "datum.p == 3"}], "mark": {"type": "area", "color": "#ffa500", "opacity": 0.3},
   "encoding": {"x": {"field": "x", "type": "quantitative", "title": "Actual distance (m)", "scale": {"domain": [0, 5], "nice": false}, "axis": {"values": [0, 1, 2, 3, 4, 5], "format": "d"}},
    "y": {"field": "l2", "type": "quantitative", "title": "Estimated distance (m)", "scale": {"domain": [0, 25], "nice": false}, "axis": {"values": [0, 5, 10, 15, 20, 25]}}, "y2": {"field": "h2"}}},
  {"data": {"name": "d"}, "transform": [{"filter": "datum.p == 3"}], "mark": {"type": "area", "color": "#ffa500", "opacity": 0.5},
   "encoding": {"x": {"field": "x", "type": "quantitative"}, "y": {"field": "l1", "type": "quantitative"}, "y2": {"field": "h1"}}},
  {"data": {"name": "d"}, "transform": [{"filter": "datum.p == 3"}], "mark": {"type": "line", "strokeWidth": 1},
   "encoding": {"x": {"field": "x", "type": "quantitative"}, "y": {"field": "r", "type": "quantitative"},
    "color": {"datum": "RTT - RMSE: 1.45 - max error: 6.59", "type": "nominal", "scale": {"domain": ["PBR - RMSE: 1.03 - max error: 3.56", "RTT - RMSE: 1.45 - max error: 6.59"], "range": ["#0000ff", "#ffa500"]}, "legend": {"title": null}}}},
  {"data": {"name": "fit"}, "transform": [{"filter": "datum.p == 3"}], "mark": {"type": "line", "color": "#ffa500", "strokeWidth": 1},
   "encoding": {"x": {"field": "x", "type": "quantitative"}, "y": {"field": "rf", "type": "quantitative"}}},
  {"data": {"name": "d"}, "transform": [{"filter": "datum.p == 3"}], "mark": {"type": "area", "color": "#0000ff", "opacity": 0.45},
   "encoding": {"x": {"field": "x", "type": "quantitative"}, "y": {"field": "bl", "type": "quantitative"}, "y2": {"field": "bh"}}},
  {"data": {"name": "d"}, "transform": [{"filter": "datum.p == 3"}], "mark": {"type": "line", "strokeWidth": 1},
   "encoding": {"x": {"field": "x", "type": "quantitative"}, "y": {"field": "b", "type": "quantitative"},
    "color": {"datum": "PBR - RMSE: 1.03 - max error: 3.56", "type": "nominal"}}},
  {"data": {"name": "fit"}, "transform": [{"filter": "datum.p == 3"}], "mark": {"type": "line", "color": "#0000ff", "strokeWidth": 1},
   "encoding": {"x": {"field": "x", "type": "quantitative"}, "y": {"field": "bf", "type": "quantitative"}}},
  {"data": {"name": "fit"}, "transform": [{"filter": "datum.p == 3"}], "mark": {"type": "line", "color": "#000000", "strokeWidth": 1},
   "encoding": {"x": {"field": "x", "type": "quantitative"}, "y": {"field": "id", "type": "quantitative"}}}
 ]}
]
}
